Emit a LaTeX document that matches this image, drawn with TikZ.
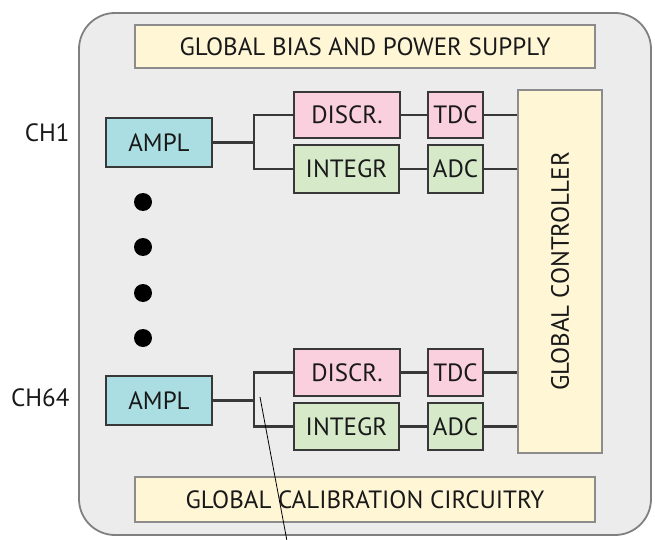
\documentclass[tikz,border=0pt]{standalone}
\usepackage{fontspec}
\setmainfont{PT Sans}
\begin{document}
\begin{tikzpicture}[x=1pt,y=-1pt,
  every node/.style={font=\fontsize{25}{28}\selectfont, text=black!90},
  blk/.style={draw=black!78, line width=1.9pt, inner sep=0pt, rectangle},
  ampl/.style={blk, fill={rgb,255:red,170;green,222;blue,226}},
  pink/.style={blk, fill={rgb,255:red,250;green,208;blue,222}},
  green/.style={blk, fill={rgb,255:red,214;green,234;blue,202}},
  glob/.style={draw=black!45, line width=1.6pt, inner sep=0pt, fill={rgb,255:red,255;green,246;blue,214}},
  wire/.style={draw=black!78, line width=2.3pt},
  dotn/.style={circle, fill=black, inner sep=0pt, minimum size=18pt},
]
\useasboundingbox (0,0) rectangle (655,540);
% outer chip
\draw[draw=black!50, line width=1.8pt, fill={rgb,255:red,236;green,236;blue,236}, rounded corners=36pt] (79,13) rectangle (651,535);
% global blocks
\node[glob, minimum width=460pt, minimum height=43pt] (bias) at (365,46.5) {GLOBAL BIAS AND POWER SUPPLY};
\node[glob, minimum width=460pt, minimum height=45pt] (cal) at (365,499.5) {GLOBAL CALIBRATION CIRCUITRY};
\node[glob, minimum width=84pt, minimum height=363pt] (ctrl) at (560,271.5) {};
\node[rotate=90] (ctrltxt) at (ctrl.center) {GLOBAL CONTROLLER};
% channel 1
\node[ampl, minimum width=106pt, minimum height=49pt] (a1) at (159,142.5) {AMPL};
\node[pink, minimum width=106pt, minimum height=46pt] (d1) at (347,115) {DISCR.};
\node[green, minimum width=105pt, minimum height=48pt] (i1) at (346.5,169) {INTEGR};
\node[pink, minimum width=55pt, minimum height=46pt] (t1) at (455.5,115) {TDC};
\node[green, minimum width=55pt, minimum height=48pt] (c1) at (455.5,169) {ADC};
\coordinate (b1) at (254,142.5);
% channel 64
\node[ampl, minimum width=106pt, minimum height=49pt] (a2) at (159,400.5) {AMPL};
\node[pink, minimum width=106pt, minimum height=47pt] (d2) at (347,372.5) {DISCR.};
\node[green, minimum width=105pt, minimum height=47pt] (i2) at (346.5,426.5) {INTEGR};
\node[pink, minimum width=55pt, minimum height=47pt] (t2) at (455.5,372.5) {TDC};
\node[green, minimum width=55pt, minimum height=47pt] (c2) at (455.5,426.5) {ADC};
\coordinate (b2) at (254,400.5);
% labels
\node[anchor=east] (ch1) at (73,133) {CH1};
\node[anchor=east] (ch64) at (73,398) {CH64};
% dots
\node[dotn] (p1) at (143,202) {};
\node[dotn] (p2) at (143,247) {};
\node[dotn] (p3) at (143,293) {};
\node[dotn] (p4) at (143,338) {};
% wires
\draw[wire] (a1.east) -- (b1);
\draw[wire] (d1.west) -| (b1) |- (i1.west);
\draw[wire] (d1.east) -- (t1.west);
\draw[wire] (i1.east) -- (c1.west);
\draw[wire] (t1.east) -- (t1.east -| ctrl.west);
\draw[wire] (c1.east) -- (c1.east -| ctrl.west);
\draw[wire] (a2.east) -- (b2);
\draw[wire] (d2.west) -| (b2) |- (i2.west);
\draw[wire] (d2.east) -- (t2.west);
\draw[wire] (i2.east) -- (c2.west);
\draw[wire] (t2.east) -- (t2.east -| ctrl.west);
\draw[wire] (c2.east) -- (c2.east -| ctrl.west);
% pointer line
\coordinate (ptA) at (260,397);
\coordinate (ptB) at (287,541);
\draw[black, line width=0.8pt] (ptA) -- (ptB);
\end{tikzpicture}
\end{document}
